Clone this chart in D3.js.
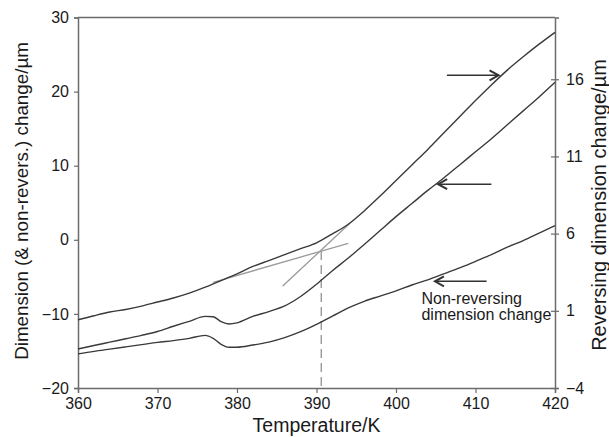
<!DOCTYPE html>
<html>
<head>
<meta charset="utf-8">
<script src="https://cdn.jsdelivr.net/npm/d3@7"></script>
<style>
  body { margin: 0; background: #fff; }
  text { font-family: "Liberation Sans", Arial, sans-serif; fill: #1a1a1a; }
</style>
</head>
<body>
<script>
const WIDTH = 609
const HEIGHT = 437

// data
const temps = [360, 362, 364, 366, 368, 370, 372, 374, 376, 377, 378, 379, 380, 382, 384, 386, 388, 390,
  392, 394, 396, 398, 400, 402, 404, 406, 408, 410, 412, 414, 416, 418, 420]

// total dimension change (heating), left axis
const totalDim = [-10.8, -10.25, -9.75, -9.4, -8.95, -8.4, -7.85, -7.2, -6.4, -5.95, -5.5, -5.05, -4.6, -3.6, -2.8, -2.0, -1.2, -0.4,
  0.8, 2.1, 3.9, 5.9, 8.0, 10.1, 12.2, 14.4, 16.6, 18.8, 20.9, 22.9, 24.7, 26.4, 28.0]

// reversing dimension change, right axis
const revDim = [-1.47, -1.25, -1.03, -0.81, -0.59, -0.34, 0.0, 0.32, 0.64, 0.62, 0.3, 0.15, 0.22, 0.64, 0.95, 1.32, 1.93, 2.72,
  3.6, 4.42, 5.3, 6.2, 7.1, 7.95, 8.8, 9.6, 10.45, 11.3, 12.15, 13.05, 13.95, 14.85, 15.8]

// non-reversing dimension change, left axis
const nonRevDim = [-15.4, -15.05, -14.75, -14.45, -14.15, -13.85, -13.6, -13.3, -12.9, -13.3, -14.1, -14.5, -14.5, -14.2, -13.8, -13.2, -12.4, -11.4,
  -10.3, -9.2, -8.3, -7.6, -6.9, -6.1, -5.4, -4.6, -3.8, -2.9, -2.0, -1.0, -0.1, 0.9, 1.9]

// tangent construction
const shallowT = [377.0, 394.0]
const shallowV = [-5.74, -0.47]
const steepT = [385.75, 394.2]
const steepV = [-6.24, 2.23]
const onsetT = 390.6
const onsetV = -1.5

// arrows [T start, T end, value]
const arrows = [[406.4, 412.9, 22.2], [412.0, 405.3, 7.5], [411.4, 404.9, -5.6]]

const xTicks = [360, 370, 380, 390, 400, 410, 420]
const yTicks = [-20, -10, 0, 10, 20, 30]
const y2Ticks = [-4, 1, 6, 11, 16]

const margin = {left: 78, right: 54, top: 17.5, bottom: 49}

const svg = d3.select("body").append("svg")
  .attr("width", WIDTH)
  .attr("height", HEIGHT)

const x = d3.scaleLinear().domain([360, 420]).range([margin.left, WIDTH - margin.right])
const y = d3.scaleLinear().domain([-20, 30]).range([HEIGHT - margin.bottom, margin.top])
const y2 = d3.scaleLinear().domain([-4, 20]).range([HEIGHT - margin.bottom, margin.top])

const axisColor = "#6b6b6b"

// frame top line
svg.append("line")
  .attr("x1", x(360)).attr("x2", x(420))
  .attr("y1", y(30)).attr("y2", y(30))
  .attr("stroke", axisColor).attr("stroke-width", 1.5)

const minus = d => d < 0 ? "\u2212" + Math.abs(d) : d

const xAxis = svg.append("g")
  .attr("transform", `translate(0,${y(-20)})`)
  .call(d3.axisBottom(x).tickValues(xTicks).tickSize(5).tickPadding(5))
const yAxis = svg.append("g")
  .attr("transform", `translate(${x(360)},0)`)
  .call(d3.axisLeft(y).tickValues(yTicks).tickSize(4).tickPadding(5).tickFormat(minus))
const y2Axis = svg.append("g")
  .attr("transform", `translate(${x(420)},0)`)
  .call(d3.axisRight(y2).tickValues(y2Ticks).tickSize(4).tickPadding(7).tickFormat(minus))

y2Axis.selectAll(".tick line").attr("x1", -4)

for (const g of [xAxis, yAxis, y2Axis]) {
  g.select(".domain").attr("stroke", axisColor).attr("stroke-width", 1.5)
  g.selectAll(".tick line").attr("stroke", axisColor).attr("stroke-width", 1.2)
  g.selectAll(".tick text").attr("font-size", 16).attr("font-family", "Liberation Sans, Arial, sans-serif").attr("fill", "#1a1a1a")
}

// axis titles
svg.append("text")
  .attr("x", (x(360) + x(420)) / 2).attr("y", 432)
  .attr("text-anchor", "middle").attr("font-size", 19.5)
  .text("Temperature/K")

svg.append("text")
  .attr("transform", `translate(28,201) rotate(-90)`)
  .attr("text-anchor", "middle").attr("font-size", 18.8)
  .text("Dimension (& non-revers.) change/\u00b5m")

svg.append("text")
  .attr("transform", `translate(606,205) rotate(-90)`)
  .attr("text-anchor", "middle").attr("font-size", 20)
  .text("Reversing dimension change/\u00b5m")

// tangent lines
const gray = "#9a9a9a"
svg.append("line")
  .attr("x1", x(shallowT[0])).attr("y1", y(shallowV[0]))
  .attr("x2", x(shallowT[1])).attr("y2", y(shallowV[1]))
  .attr("stroke", gray).attr("stroke-width", 1.3)
svg.append("line")
  .attr("x1", x(steepT[0])).attr("y1", y(steepV[0]))
  .attr("x2", x(steepT[1])).attr("y2", y(steepV[1]))
  .attr("stroke", gray).attr("stroke-width", 1.3)
svg.append("line")
  .attr("x1", x(onsetT)).attr("y1", y(onsetV))
  .attr("x2", x(onsetT)).attr("y2", y(-20))
  .attr("stroke", gray).attr("stroke-width", 1.4)
  .attr("stroke-dasharray", "9,5")

// curves
const lineL = d3.line().x((d, i) => x(temps[i])).y(d => y(d)).curve(d3.curveMonotoneX)
const lineR = d3.line().x((d, i) => x(temps[i])).y(d => y2(d)).curve(d3.curveMonotoneX)

const curveColor = "#3a3a3a"
svg.append("path").attr("d", lineL(totalDim))
  .attr("fill", "none").attr("stroke", curveColor).attr("stroke-width", 1.4)
svg.append("path").attr("d", lineR(revDim))
  .attr("fill", "none").attr("stroke", curveColor).attr("stroke-width", 1.4)
svg.append("path").attr("d", lineL(nonRevDim))
  .attr("fill", "none").attr("stroke", curveColor).attr("stroke-width", 1.4)

// arrows
arrows.forEach(a => {
  const x1 = x(a[0]), x2 = x(a[1]), yy = y(a[2])
  const dir = Math.sign(x2 - x1)
  svg.append("line")
    .attr("x1", x1).attr("x2", x2).attr("y1", yy).attr("y2", yy)
    .attr("stroke", "#333").attr("stroke-width", 1.4)
  svg.append("path")
    .attr("d", `M${x2 - dir * 9},${yy - 5} L${x2},${yy} L${x2 - dir * 9},${yy + 5}`)
    .attr("fill", "none").attr("stroke", "#333").attr("stroke-width", 2)
})

// annotation
svg.append("text").attr("x", x(403.2)).attr("y", y(-8.6))
  .attr("font-size", 16).text("Non-reversing")
svg.append("text").attr("x", x(403.2)).attr("y", y(-10.85))
  .attr("font-size", 16).text("dimension change")
</script>
</body>
</html>
